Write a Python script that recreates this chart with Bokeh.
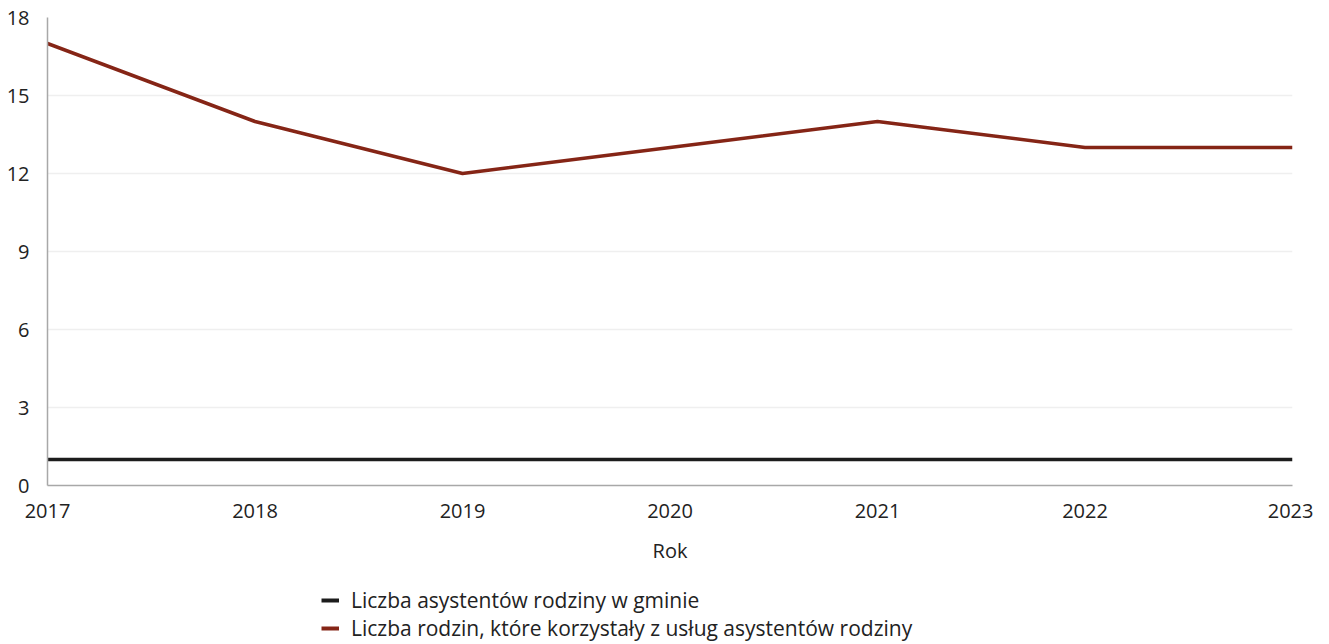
from bokeh.plotting import figure
from bokeh.layouts import column
from bokeh.models import Legend, LegendItem, Range1d, FixedTicker
from bokeh.embed import file_html
from bokeh.resources import INLINE

years = [2017, 2018, 2019, 2020, 2021, 2022, 2023]
assistants = [1, 1, 1, 1, 1, 1, 1]
families = [17, 14, 12, 13, 14, 13, 13]
y_ticks = [0, 3, 6, 9, 12, 15, 18]
series_names = ["Liczba asystentów rodziny w gminie",
                "Liczba rodzin, które korzystały z usług asystentów rodziny"]
colors = ["#1c1c1c", "#852516"]

FONT = "Open Sans"
TXT = "#222222"

p = figure(width=1313, height=566, output_backend="svg", toolbar_location=None,
           x_range=Range1d(2017, 2023), y_range=Range1d(0, 18),
           min_border_left=47, min_border_top=17, min_border_right=21, min_border_bottom=80)
p.outline_line_color = None

p.line(years, assistants, line_color=colors[0], line_width=3.5)
p.line(years, families, line_color=colors[1], line_width=3.5)

p.xaxis.ticker = FixedTicker(ticks=years)
p.yaxis.ticker = FixedTicker(ticks=y_ticks)
for ax in (p.xaxis, p.yaxis):
    ax.major_tick_line_color = None
    ax.minor_tick_line_color = None
    ax.axis_line_color = "#a8a8a8"
    ax.axis_line_width = 1.5
    ax.major_label_text_font = FONT
    ax.major_label_text_font_size = "20px"
    ax.major_label_text_color = TXT
p.xaxis.axis_label = "Rok"
p.xaxis.axis_label_text_font = FONT
p.xaxis.axis_label_text_font_size = "20px"
p.xaxis.axis_label_text_font_style = "normal"
p.xaxis.axis_label_text_color = TXT
p.xaxis.major_label_standoff = 12
p.xaxis.axis_label_standoff = 16
p.yaxis.major_label_standoff = 12

p.xgrid.grid_line_color = None
p.ygrid.grid_line_color = "#efefef"
p.ygrid.grid_line_width = 1.5

# legend panel below the chart (its ranges keep the series out of view; only the legend shows)
lp = figure(width=1313, height=76, output_backend="svg", toolbar_location=None,
            x_range=Range1d(0, 1), y_range=Range1d(-100, -99),
            min_border_left=47, min_border_right=21, min_border_top=0, min_border_bottom=0)
lp.axis.visible = False
lp.grid.visible = False
lp.outline_line_color = None
l1 = lp.line(years, assistants, line_color=colors[0], line_width=4)
l2 = lp.line(years, families, line_color=colors[1], line_width=4)
legend = Legend(items=[LegendItem(label=series_names[0], renderers=[l1]),
                       LegendItem(label=series_names[1], renderers=[l2])],
                orientation="vertical", location=(274, 0),
                label_text_font=FONT, label_text_font_size="21px",
                label_text_color=TXT,
                glyph_width=18, glyph_height=18, label_standoff=12,
                spacing=-5, padding=0, margin=0,
                border_line_color=None, background_fill_alpha=0)
lp.add_layout(legend, "center")

layout = column(p, lp, spacing=0)
open("out.html", "w").write(file_html(layout, INLINE))
